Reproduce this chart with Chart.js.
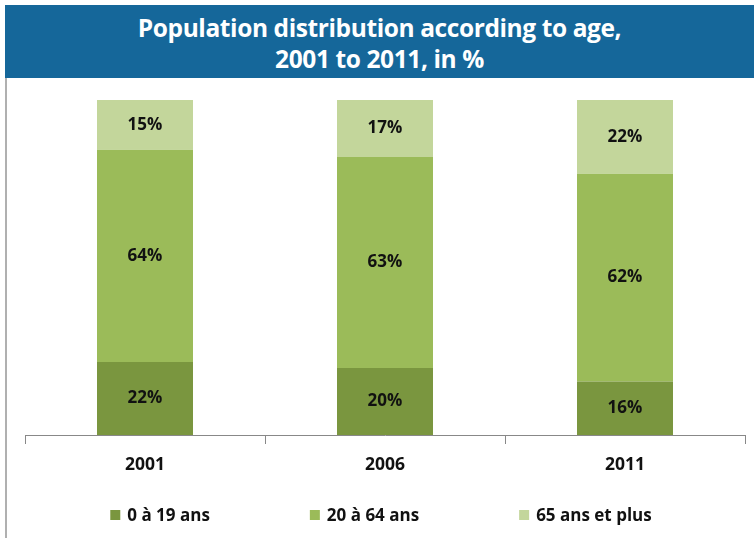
<!DOCTYPE html>
<html>
<head>
<meta charset="utf-8">
<script src="https://cdn.jsdelivr.net/npm/chart.js@4/dist/chart.umd.min.js"></script>
<style>
  html, body { margin: 0; padding: 0; background: #fff; }
  #wrap { position: absolute; left: 5px; top: 5px; width: 749px; height: 533px; }
  #banner {
    height: 73px; background: #15679a; color: #fff;
    font: bold 24.5px "Open Sans", "Liberation Sans", sans-serif;
    text-align: center; line-height: 31px; padding-top: 7px; box-sizing: border-box;
    letter-spacing: -0.4px;
  }
  #box { position: absolute; left: 0; top: 73px; width: 749px; height: 460px; border-left: 2px solid #b0b0b0; box-sizing: border-box; }
  #box canvas { display: block; }
</style>
</head>
<body>
<div id="wrap">
  <div id="banner">Population distribution according to age,<br>2001 to 2011, in %</div>
  <div id="box"><canvas id="c" width="747" height="460"></canvas></div>
</div>
<script>
// ── données ──────────────────────────────────────────────
const YEARS   = ['2001', '2006', '2011'];
const GROUPS  = ['0 à 19 ans', '20 à 64 ans', '65 ans et plus'];
const YOUNG   = [22, 20, 16];
const ADULT   = [64, 63, 62];
const SENIOR  = [15, 17, 22];
const COLORS  = ['#7a963f', '#9bbb59', '#c3d69b'];

const RAW = [YOUNG, ADULT, SENIOR];
// 100 % empilé : chaque barre ramenée à 100
const totals = YEARS.map((_, i) => RAW.reduce((s, a) => s + a[i], 0));

const FONT = '"Open Sans", "Liberation Sans", sans-serif';

// étiquettes au centre des segments
const segLabels = {
  id: 'segLabels',
  afterDatasetsDraw(chart) {
    const { ctx } = chart;
    ctx.save();
    ctx.font = 'bold 17px ' + FONT;
    ctx.fillStyle = '#111';
    ctx.textAlign = 'center';
    ctx.textBaseline = 'middle';
    chart.data.datasets.forEach((ds, di) => {
      chart.getDatasetMeta(di).data.forEach((bar, i) => {
        const mid = (bar.y + bar.base) / 2;
        ctx.fillText(ds.raw[i] + '%', bar.x, mid);
      });
    });
    ctx.restore();
  }
};

// légende maison (espacement large comme l'original)
const bottomLegend = {
  id: 'bottomLegend',
  afterDraw(chart) {
    const { ctx } = chart;
    const GAP = 100, BOX = 10, TXT = 7, Y = 437;
    ctx.save();
    ctx.font = 'bold 17px ' + FONT;
    ctx.textBaseline = 'middle';
    const items = chart.data.datasets.map(ds => ({
      text: ds.label, color: ds.backgroundColor,
      w: BOX + TXT + ctx.measureText(ds.label).width,
    }));
    const total = items.reduce((s, it) => s + it.w, 0) + GAP * (items.length - 1);
    let x = (chart.chartArea.left + chart.chartArea.right) / 2 - total / 2 - 4;
    items.forEach(it => {
      ctx.fillStyle = it.color;
      ctx.fillRect(x, Y - BOX / 2, BOX, BOX);
      ctx.fillStyle = '#111';
      ctx.fillText(it.text, x + BOX + TXT, Y + 1);
      x += it.w + GAP;
    });
    ctx.restore();
  }
};

new Chart(document.getElementById('c'), {
  type: 'bar',
  data: {
    labels: YEARS,
    datasets: RAW.map((arr, k) => ({
      label: GROUPS[k],
      raw: arr,
      data: arr.map((v, i) => v / totals[i] * 100),
      backgroundColor: COLORS[k],
      barPercentage: 0.8,
      categoryPercentage: 0.5,
    })),
  },
  options: {
    responsive: false,
    animation: false,
    layout: { padding: { left: 18, right: 9, top: 22, bottom: 51 } },
    plugins: {
      legend: { display: false },
      tooltip: { enabled: false },
    },
    scales: {
      x: {
        stacked: true,
        grid: { drawOnChartArea: false, color: '#888', tickLength: 9 },
        border: { color: '#888' },
        ticks: { color: '#111', padding: 11, font: { size: 17.5, weight: 'bold', family: FONT } },
      },
      y: { stacked: true, display: false, min: 0, max: 100 },
    },
  },
  plugins: [segLabels, bottomLegend],
});
</script>
</body>
</html>
